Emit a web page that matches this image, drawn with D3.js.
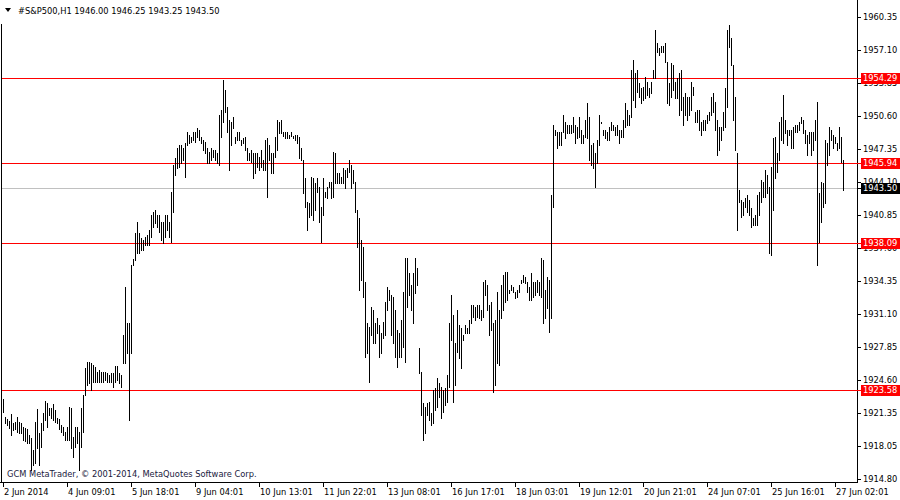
<!DOCTYPE html>
<html><head><meta charset="utf-8">
<script src="https://cdn.jsdelivr.net/npm/d3@7/dist/d3.min.js"></script>
<style>
html,body{margin:0;padding:0;background:#fff;}
svg text{font-family:"DejaVu Sans",Tahoma,sans-serif;font-size:8.3px;}
</style></head>
<body>
<svg id="chart" width="900" height="500"></svg>
<script>
// ---------- DATA ----------
const symbolTitle = "#S&P500,H1";
const lastOHLC = [1946.00, 1946.25, 1943.25, 1943.50];

const highs = [
1922.69,1920.92,1920.72,1920.52,1921.21,1920.33,1920.42,1920.92,1920.42,1920.33,
1919.93,1919.83,1919.73,1919.14,1918.85,1917.67,1920.42,1921.70,1919.34,1920.33,
1921.31,1922.49,1922.30,1921.80,1921.80,1922.20,1921.61,1920.82,1920.72,1920.13,
1919.93,1919.44,1919.93,1921.90,1921.80,1918.95,1919.93,1919.93,1919.44,1921.80,
1923.08,1925.74,1926.34,1926.34,1926.24,1926.04,1925.84,1925.35,1925.55,1925.35,
1925.35,1925.35,1925.25,1925.05,1925.25,1925.25,1925.94,1925.94,1925.25,1925.05,
1929.00,1933.72,1930.18,1930.18,1935.89,1936.48,1939.04,1940.13,1939.04,1938.55,
1938.36,1938.65,1938.85,1939.34,1940.82,1941.11,1941.31,1940.82,1940.82,1940.13,
1940.13,1940.82,1940.82,1940.13,1943.08,1945.74,1946.43,1947.42,1947.71,1947.71,
1947.42,1947.91,1949.00,1948.70,1948.50,1949.00,1949.00,1949.39,1949.19,1948.50,
1948.21,1948.01,1947.42,1947.02,1947.42,1947.22,1947.22,1946.93,1950.67,1951.16,
1954.12,1953.13,1951.46,1950.18,1949.98,1950.47,1948.50,1949.00,1949.00,1948.21,
1948.40,1948.50,1947.42,1946.93,1947.22,1946.93,1946.93,1946.93,1946.53,1947.22,
1946.24,1948.21,1948.40,1947.71,1946.93,1946.93,1948.50,1950.18,1949.98,1950.18,
1949.00,1949.00,1949.00,1948.70,1949.00,1948.60,1948.70,1948.70,1948.50,1947.42,
1946.24,1944.46,1942.10,1942.00,1944.56,1944.46,1943.97,1944.46,1943.58,1941.61,
1944.46,1943.08,1943.58,1944.07,1944.07,1947.02,1946.93,1944.96,1944.96,1944.56,
1945.45,1945.25,1945.45,1946.24,1945.74,1945.25,1944.07,1941.31,1940.52,1938.36,
1937.67,1934.22,1930.18,1929.78,1931.75,1931.46,1930.18,1930.67,1929.98,1929.19,
1930.28,1932.25,1933.72,1933.43,1932.94,1932.74,1931.46,1929.49,1929.19,1930.47,
1933.23,1936.58,1936.58,1935.10,1933.92,1935.10,1936.58,1935.60,1927.72,1925.35,
1922.30,1921.90,1922.30,1922.39,1921.31,1923.58,1923.77,1924.76,1924.27,1923.87,
1923.58,1923.77,1925.05,1930.18,1932.94,1930.97,1928.21,1931.46,1929.98,1929.69,
1929.00,1929.98,1929.69,1930.47,1931.95,1931.95,1931.75,1931.95,1931.95,1931.46,
1934.22,1934.41,1933.92,1931.95,1932.25,1930.18,1930.47,1933.23,1931.46,1933.92,
1934.91,1935.20,1935.20,1933.43,1933.92,1933.72,1933.23,1933.43,1933.92,1934.41,
1934.91,1934.71,1934.22,1933.72,1935.10,1934.22,1934.22,1934.41,1934.22,1936.58,
1936.38,1933.43,1934.71,1934.41,1942.79,1949.68,1949.19,1949.00,1949.00,1949.00,
1950.67,1949.98,1949.68,1949.68,1949.68,1950.47,1949.68,1949.49,1950.47,1949.19,
1948.70,1950.18,1951.85,1950.47,1947.71,1947.91,1946.93,1948.21,1950.67,1949.98,
1949.19,1949.19,1949.00,1949.49,1949.98,1949.68,1949.49,1949.68,1949.19,1949.19,
1950.18,1951.85,1951.16,1950.67,1955.10,1956.09,1954.81,1955.10,1953.82,1953.33,
1953.43,1954.41,1953.92,1953.33,1953.92,1955.10,1959.04,1957.76,1957.27,1957.47,
1957.47,1957.76,1955.89,1953.82,1955.79,1955.60,1953.92,1954.32,1954.81,1955.10,
1952.44,1952.84,1952.44,1952.44,1953.92,1953.43,1950.97,1951.16,1951.16,1949.98,
1950.18,1950.18,1950.67,1950.97,1952.44,1952.84,1951.95,1950.18,1949.49,1949.49,
1950.97,1953.33,1959.04,1959.54,1958.26,1955.60,1952.44,1946.93,1943.28,1942.30,
1942.10,1942.49,1942.79,1942.30,1941.51,1940.52,1940.82,1942.79,1943.08,1944.27,
1944.07,1945.25,1944.76,1943.58,1945.55,1948.40,1948.50,1946.93,1949.98,1950.47,
1952.64,1950.18,1949.19,1949.19,1949.19,1949.49,1949.68,1949.68,1949.98,1950.47,
1950.18,1949.19,1948.70,1949.00,1949.00,1949.00,1950.18,1951.95,1942.99,1944.07,
1943.97,1948.21,1947.91,1949.49,1949.19,1948.70,1948.50,1947.91,1949.49,1948.50,
1946.25
];

const lows = [
1921.41,1920.33,1920.13,1919.83,1919.14,1919.64,1919.73,1919.44,1919.34,1919.34,
1918.65,1918.55,1918.36,1918.36,1915.70,1916.19,1916.39,1917.86,1916.19,1917.96,
1919.64,1920.62,1919.93,1921.11,1920.82,1920.62,1920.42,1920.33,1919.73,1919.44,
1919.14,1918.65,1918.65,1918.65,1917.86,1916.98,1917.96,1918.36,1915.70,1917.96,
1919.44,1923.08,1924.07,1924.27,1923.58,1924.37,1924.37,1924.37,1924.37,1924.37,
1924.37,1924.56,1924.37,1924.37,1924.37,1923.87,1924.37,1924.56,1924.27,1923.87,
1926.24,1926.24,1927.22,1920.62,1927.22,1935.89,1936.38,1937.07,1937.07,1937.37,
1937.37,1937.86,1937.86,1937.86,1938.65,1939.64,1940.03,1939.64,1939.14,1938.36,
1938.06,1938.65,1939.34,1938.65,1938.16,1941.11,1944.76,1945.45,1945.55,1945.94,
1946.24,1944.56,1947.71,1947.91,1948.01,1948.21,1948.01,1948.50,1948.21,1947.91,
1947.22,1946.93,1945.94,1945.94,1946.24,1946.53,1946.24,1945.94,1945.74,1948.50,
1949.98,1950.97,1949.00,1945.25,1947.71,1949.39,1947.91,1948.21,1948.21,1947.71,
1947.91,1947.22,1946.24,1946.24,1946.04,1944.46,1944.96,1945.55,1945.25,1945.55,
1945.25,1945.25,1942.59,1946.24,1944.96,1944.96,1946.53,1947.22,1948.90,1948.90,
1948.60,1948.40,1948.40,1948.40,1948.60,1948.40,1948.21,1947.91,1946.43,1946.24,
1942.99,1941.61,1939.34,1940.62,1940.82,1940.33,1941.31,1943.08,1940.13,1938.16,
1940.82,1942.59,1942.49,1943.58,1942.49,1942.59,1943.97,1943.97,1943.97,1943.97,
1943.97,1943.48,1944.56,1945.05,1943.48,1943.97,1941.11,1937.67,1933.43,1934.41,
1932.74,1926.83,1927.22,1924.37,1929.00,1928.21,1928.21,1929.19,1926.83,1927.22,
1928.70,1929.00,1931.46,1932.44,1929.00,1928.21,1926.83,1925.84,1926.83,1926.83,
1927.81,1926.34,1931.75,1932.94,1931.46,1930.18,1933.13,1933.92,1925.25,1921.11,
1918.65,1919.34,1921.11,1920.62,1920.13,1920.33,1921.61,1921.90,1922.89,1920.82,
1921.41,1922.10,1922.39,1923.87,1928.50,1922.39,1924.07,1927.32,1926.73,1925.74,
1928.50,1929.19,1929.19,1929.19,1930.18,1930.77,1930.47,1930.77,1930.67,1930.47,
1930.77,1932.94,1931.46,1929.00,1929.49,1923.38,1924.07,1926.24,1926.04,1930.67,
1931.46,1932.25,1932.44,1933.13,1933.43,1933.23,1932.64,1932.74,1933.23,1934.12,
1934.22,1934.12,1933.23,1932.44,1932.44,1932.74,1932.94,1933.23,1932.94,1932.74,
1930.18,1930.67,1931.66,1929.29,1930.67,1941.61,1948.70,1947.42,1947.71,1947.71,
1949.00,1948.40,1948.90,1948.90,1948.90,1949.00,1947.91,1948.40,1948.50,1947.91,
1947.91,1948.50,1948.40,1946.24,1945.74,1945.45,1943.58,1945.94,1947.71,1949.88,
1948.70,1948.40,1948.21,1948.21,1949.19,1949.19,1948.70,1948.70,1947.91,1948.50,
1948.50,1949.49,1949.68,1949.68,1950.47,1952.15,1951.46,1952.94,1952.44,1951.85,
1952.15,1952.35,1952.64,1952.44,1952.84,1954.32,1954.32,1956.88,1956.58,1956.88,
1956.88,1955.89,1951.85,1951.66,1952.44,1953.13,1952.35,1952.35,1950.67,1951.16,
1949.68,1950.67,1950.18,1950.67,1951.16,1952.64,1949.98,1949.98,1949.19,1948.70,
1949.19,1949.19,1949.88,1950.18,1950.67,1950.97,1949.19,1946.73,1947.22,1948.21,
1949.19,1949.49,1951.46,1957.37,1955.60,1950.18,1947.22,1939.34,1942.10,1940.62,
1940.82,1941.61,1941.11,1940.82,1939.64,1939.83,1939.83,1939.83,1940.82,1942.10,
1942.59,1942.59,1942.99,1937.07,1936.88,1941.31,1944.46,1945.05,1946.24,1948.21,
1947.91,1948.90,1947.71,1948.70,1947.42,1947.42,1949.00,1949.00,1949.19,1949.88,
1948.90,1947.91,1946.73,1947.91,1946.73,1947.22,1948.21,1935.89,1938.16,1940.13,
1941.61,1942.00,1945.74,1946.73,1948.21,1947.42,1947.91,1947.22,1947.42,1946.04,
1943.25
];

const priceTicks = [1960.35,1957.10,1953.85,1950.60,1947.35,1944.10,1940.85,1937.60,1934.35,1931.10,1927.85,1924.60,1921.35,1918.05,1914.80];
const timeLabels = ["2 Jun 2014","4 Jun 09:01","5 Jun 18:01","9 Jun 04:01","10 Jun 13:01","11 Jun 22:01","13 Jun 08:01","16 Jun 17:01","18 Jun 03:01","19 Jun 12:01","20 Jun 21:01","24 Jun 07:01","25 Jun 16:01","27 Jun 02:01"];
const labelEvery = 32;
const levelLines = [1954.29, 1945.94, 1938.09, 1923.58];
const bidPrice = 1943.50;
const copyright = "GCM MetaTrader, \u00A9 2001-2014, MetaQuotes Software Corp.";

// ---------- CHART ----------
const W = 900, H = 500;
const plotRight = 857, plotBottom = 482;
const svg = d3.select("#chart");
svg.append("rect").attr("width", W).attr("height", H).attr("fill", "#fff");

const n = Math.min(highs.length, lows.length);
const x = d3.scaleLinear().domain([0, 426]).range([3, 855]);
const y = d3.scaleLinear().domain([1914.80, 1960.35]).range([479, 16.7]);
const px = v => Math.round(v) + 0.5;

// level lines
svg.append("line").attr("x1", 1).attr("x2", plotRight).attr("y1", px(y(bidPrice))).attr("y2", px(y(bidPrice)))
  .attr("stroke", "#c0c0c0").attr("stroke-width", 1).attr("shape-rendering", "crispEdges");
svg.selectAll("line.level").data(levelLines).enter().append("line").attr("class", "level")
  .attr("x1", 1).attr("x2", plotRight)
  .attr("y1", d => px(y(d))).attr("y2", d => px(y(d)))
  .attr("stroke", "#ff0000").attr("stroke-width", 1).attr("shape-rendering", "crispEdges");

// bars (high-low)
const idx = d3.range(n);
svg.append("g").selectAll("line").data(idx).enter().append("line")
  .attr("x1", i => px(x(i))).attr("x2", i => px(x(i)))
  .attr("y1", i => Math.round(y(highs[i])))
  .attr("y2", i => Math.round(y(lows[i])) + 1)
  .attr("stroke", "#000").attr("stroke-width", 1).attr("shape-rendering", "crispEdges");

// frame
const frame = svg.append("g").attr("stroke", "#000").attr("shape-rendering", "crispEdges");
frame.append("line").attr("x1", 1.5).attr("x2", 1.5).attr("y1", 24).attr("y2", plotBottom);
frame.append("line").attr("x1", plotRight + 0.5).attr("x2", plotRight + 0.5).attr("y1", 0).attr("y2", plotBottom + 1);
frame.append("line").attr("x1", 0).attr("x2", plotRight + 1).attr("y1", plotBottom + 0.5).attr("y2", plotBottom + 0.5);

// right price axis
const ra = svg.append("g");
priceTicks.forEach(v => {
  const yy = Math.round(y(v)) + 0.5;
  ra.append("line").attr("x1", plotRight).attr("x2", plotRight + 4).attr("y1", yy).attr("y2", yy)
    .attr("stroke", "#000").attr("shape-rendering", "crispEdges");
  ra.append("text").attr("x", plotRight + 6).attr("y", yy).attr("dy", "0.36em").attr("fill", "#000").text(v.toFixed(2));
});

// level price boxes
function priceBox(v, bg) {
  const yy = Math.round(y(v));
  ra.append("line").attr("x1", plotRight).attr("x2", plotRight + 4).attr("y1", yy + 0.5).attr("y2", yy + 0.5)
    .attr("stroke", bg).attr("shape-rendering", "crispEdges");
  ra.append("rect").attr("x", plotRight + 4).attr("y", yy - 5).attr("width", 39).attr("height", 11)
    .attr("fill", bg).attr("shape-rendering", "crispEdges");
  ra.append("text").attr("x", plotRight + 6).attr("y", yy + 0.5).attr("dy", "0.36em").attr("fill", "#fff").text(v.toFixed(2));
}
levelLines.forEach(v => priceBox(v, "#ff0000"));
priceBox(bidPrice, "#000");

// bottom time axis
const ba = svg.append("g");
timeLabels.forEach((t, k) => {
  const xx = px(x(k * labelEvery));
  ba.append("line").attr("x1", xx).attr("x2", xx).attr("y1", plotBottom).attr("y2", plotBottom + 5)
    .attr("stroke", "#000").attr("shape-rendering", "crispEdges");
  ba.append("text").attr("x", xx + 0.5).attr("y", 495).attr("fill", "#000").text(t);
});

// title
svg.append("path").attr("d", "M5,8 L11,8 L8,12 Z").attr("fill", "#000");
svg.append("text").attr("x", 18).attr("y", 14).attr("fill", "#000")
  .text(symbolTitle + "  " + lastOHLC.map(v => v.toFixed(2)).join(" "));

// copyright
svg.append("text").attr("x", 7).attr("y", 477).attr("fill", "#1a1a40").text(copyright);
</script>
</body></html>
